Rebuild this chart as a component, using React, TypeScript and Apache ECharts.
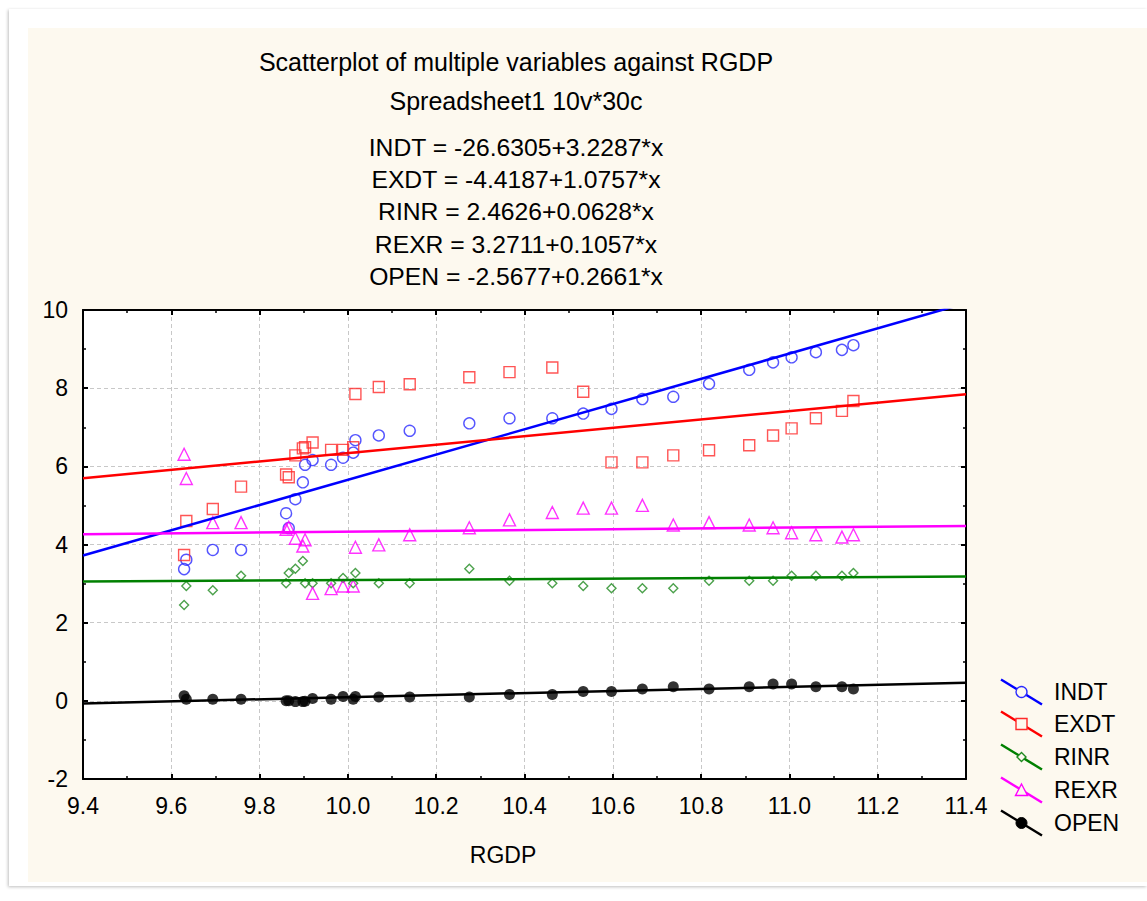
import React, { useEffect, useRef } from "react";
import * as echarts from "echarts";

// ---- Data ----
const seriesNames = ["INDT", "EXDT", "RINR", "REXR", "OPEN"];

const rgdp = [
  9.629, 9.634, 9.694, 9.758, 9.86, 9.866, 9.881, 9.898, 9.903, 9.92,
  9.962, 9.989, 10.012, 10.017, 10.07, 10.14, 10.275, 10.366, 10.463, 10.533,
  10.597, 10.667, 10.737, 10.818, 10.909, 10.963, 11.005, 11.06, 11.119, 11.145,
];
const indt = [
  3.37, 3.61, 3.86, 3.86, 4.8, 4.42, 5.16, 5.59, 6.04, 6.16,
  6.04, 6.22, 6.35, 6.67, 6.79, 6.91, 7.1, 7.23, 7.23, 7.35,
  7.47, 7.72, 7.78, 8.11, 8.47, 8.66, 8.79, 8.92, 8.98, 9.1,
];
const exdt = [
  3.73, 4.6, 4.91, 5.48, 5.79, 5.72, 6.28, 6.46, 6.49, 6.61,
  6.42, 6.42, 6.49, 7.85, 8.03, 8.1, 8.28, 8.41, 8.53, 7.91,
  6.1, 6.1, 6.28, 6.41, 6.54, 6.79, 6.97, 7.23, 7.42, 7.67,
];
const rinr = [
  2.45, 2.94, 2.83, 3.2, 3.01, 3.27, 3.38, 3.58, 3.01, 3.01,
  3.01, 3.14, 3.01, 3.27, 3.01, 3.01, 3.38, 3.07, 3.01, 2.94,
  2.88, 2.88, 2.88, 3.07, 3.07, 3.07, 3.2, 3.2, 3.2, 3.27,
];
const rexr = [
  6.31, 5.69, 4.56, 4.56, 4.39, 4.44, 4.16, 3.96, 4.12, 2.75,
  2.87, 2.94, 2.94, 3.93, 3.99, 4.25, 4.43, 4.63, 4.82, 4.93,
  4.93, 5.0, 4.5, 4.56, 4.5, 4.43, 4.3, 4.25, 4.19, 4.25,
];
const open = [
  0.13, 0.04, 0.04, 0.04, 0.0, 0.0, -0.02, -0.02, -0.01, 0.06,
  0.04, 0.11, 0.04, 0.11, 0.1, 0.1, 0.1, 0.16, 0.16, 0.24,
  0.24, 0.3, 0.36, 0.3, 0.36, 0.43, 0.43, 0.36, 0.36, 0.3,
];
const intercepts = [-26.6305, -4.4187, 2.4626, 3.2711, -2.5677];
const slopes = [3.2287, 1.0757, 0.0628, 0.1057, 0.2661];

const xMin = 9.4;
const xMax = 11.4;
const xStep = 0.2;
const yMin = -2;
const yMax = 10;
const yStep = 2;

const titleText = "Scatterplot of multiple variables against RGDP";
const subtitleText = "Spreadsheet1 10v*30c";
const xAxisName = "RGDP";

// ---- Styles ----
const allValues = [indt, exdt, rinr, rexr, open];
const colors = ["#0000ff", "#ff0000", "#008000", "#ff00ff", "#000000"];
const markerColors = ["#2a2aff", "#ff2a2a", "#1f8a1f", "#ff00ff", "#000000"];
const symbols = ["circle", "rect", "diamond", "triangle", "circle"];
const symbolSizes = [11, 11, 9, 12, 11];
const FONT = "'Liberation Sans', Arial, Helvetica, sans-serif";

const GRID = { left: 83, top: 310, width: 883, height: 469 };

function fmt(v: number) {
  return v.toFixed(4);
}

export default function App() {
  const ref = useRef<HTMLDivElement>(null);

  useEffect(() => {
    if (!ref.current) return;
    const chart = echarts.init(ref.current, undefined, { renderer: "svg" });

    const scatterSeries = seriesNames.map((name, i) => ({
      name,
      type: "scatter",
      xAxisIndex: 0,
      yAxisIndex: 0,
      symbol: symbols[i],
      symbolSize: symbolSizes[i],
      data: rgdp.map((x, k) => [x, allValues[i][k]]),
      itemStyle:
        i === 4
          ? { color: markerColors[i] }
          : { color: "rgba(255,255,255,0)", borderColor: markerColors[i], borderWidth: 1.4 },
      z: 2,
      silent: true,
    }));

    const lineSeries = seriesNames.map((name, i) => ({
      name: name + " fit",
      type: "line",
      xAxisIndex: 0,
      yAxisIndex: 0,
      showSymbol: false,
      symbol: "none",
      clip: true,
      data: [
        [xMin, intercepts[i] + slopes[i] * xMin],
        [xMax, intercepts[i] + slopes[i] * xMax],
      ],
      lineStyle: { color: colors[i], width: 2.5 },
      z: 3,
      silent: true,
    }));

    const centerX = 516;
    const headerTexts: any[] = [
      { text: titleText, y: 62, size: 25 },
      { text: subtitleText, y: 101, size: 25 },
      ...seriesNames.map((n, i) => ({
        text: `${n} = ${fmt(intercepts[i])}+${fmt(slopes[i])}*x`,
        y: 147 + i * 32.4,
        size: 24.7,
      })),
    ].map((t) => ({
      type: "text",
      x: centerX,
      y: t.y,
      style: {
        text: t.text,
        fill: "#000",
        font: `${t.size}px ${FONT}`,
        textAlign: "center",
        textVerticalAlign: "middle",
      },
    }));

    const legendYs = [692, 724, 757, 790, 823];
    const legendEls: any[] = [];
    seriesNames.forEach((n, i) => {
      const y = legendYs[i];
      const cx = 1021.5;
      legendEls.push({
        type: "line",
        shape: { x1: 1001, y1: y - 12.5, x2: 1042, y2: y + 12.5 },
        style: { stroke: colors[i], lineWidth: 2.5 },
        z: 10,
      });
      const mStyle =
        i === 4
          ? { fill: "#000", stroke: "#000", lineWidth: 1 }
          : { fill: "#fdf9ef", stroke: markerColors[i], lineWidth: 1.4 };
      if (symbols[i] === "circle") {
        legendEls.push({ type: "circle", shape: { cx, cy: y, r: 5.5 }, style: mStyle, z: 11 });
      } else if (symbols[i] === "rect") {
        legendEls.push({ type: "rect", shape: { x: cx - 5.5, y: y - 5.5, width: 11, height: 11 }, style: mStyle, z: 11 });
      } else if (symbols[i] === "diamond") {
        legendEls.push({
          type: "polygon",
          shape: { points: [[cx, y - 4.5], [cx + 4.5, y], [cx, y + 4.5], [cx - 4.5, y]] },
          style: mStyle,
          z: 11,
        });
      } else {
        legendEls.push({
          type: "polygon",
          shape: { points: [[cx, y - 6], [cx + 6, y + 5.5], [cx - 6, y + 5.5]] },
          style: mStyle,
          z: 11,
        });
      }
      legendEls.push({
        type: "text",
        x: 1054,
        y,
        style: { text: n, fill: "#000", font: `23px ${FONT}`, textVerticalAlign: "middle" },
        z: 11,
      });
    });

    const axisLineStyle = { color: "#000", width: 2 };
    const tickCommon = { show: true, inside: true, length: 5, lineStyle: { color: "#000", width: 2 } };
    const minorCommon = { show: true, splitNumber: 2, length: 3, lineStyle: { color: "#000", width: 1.5 } };

    chart.setOption({
      animation: false,
      backgroundColor: "transparent",
      textStyle: { fontFamily: FONT },
      grid: {
        ...GRID,
        show: true,
        backgroundColor: "#ffffff",
        borderWidth: 0,
      },
      xAxis: [
        {
          type: "value",
          min: xMin,
          max: xMax,
          interval: xStep,
          position: "bottom",
          axisLine: { show: true, onZero: false, lineStyle: axisLineStyle },
          axisTick: tickCommon,
          minorTick: minorCommon,
          axisLabel: {
            color: "#000",
            fontSize: 23,
            fontFamily: FONT,
            margin: 15,
            showMinLabel: true,
            showMaxLabel: true,
            formatter: (v: number) => v.toFixed(1),
          },
          splitLine: { show: true, lineStyle: { type: [4, 3], color: "#c8c8c8", width: 1 } },
        },
        {
          type: "value",
          min: xMin,
          max: xMax,
          interval: xStep,
          position: "top",
          axisLine: { show: true, onZero: false, lineStyle: axisLineStyle },
          axisTick: tickCommon,
          minorTick: minorCommon,
          axisLabel: { show: false },
          splitLine: { show: false },
        },
      ],
      yAxis: [
        {
          type: "value",
          min: yMin,
          max: yMax,
          interval: yStep,
          position: "left",
          axisLine: { show: true, onZero: false, lineStyle: axisLineStyle },
          axisTick: tickCommon,
          minorTick: minorCommon,
          axisLabel: { color: "#000", fontSize: 23, fontFamily: FONT, margin: 15 },
          splitLine: { show: true, lineStyle: { type: [4, 3], color: "#c8c8c8", width: 1 } },
        },
        {
          type: "value",
          min: yMin,
          max: yMax,
          interval: yStep,
          position: "right",
          axisLine: { show: true, onZero: false, lineStyle: axisLineStyle },
          axisTick: tickCommon,
          minorTick: minorCommon,
          axisLabel: { show: false },
          splitLine: { show: false },
        },
      ],
      graphic: [
        ...headerTexts,
        {
          type: "text",
          x: 503,
          y: 855,
          style: {
            text: xAxisName,
            fill: "#000",
            font: `23px ${FONT}`,
            textAlign: "center",
            textVerticalAlign: "middle",
          },
        },
        ...legendEls,
      ],
      series: [...scatterSeries, ...lineSeries],
    });

    return () => chart.dispose();
  }, []);

  return (
    <div
      style={{
        position: "fixed",
        left: 0,
        top: 0,
        width: 1147,
        height: 901,
        background: "#ffffff",
        overflow: "hidden",
      }}
    >
      <div
        style={{
          position: "absolute",
          left: 9,
          top: 9,
          width: 1138,
          height: 877,
          background: "#ffffff",
          boxShadow: "-1px 1px 3px rgba(0,0,0,0.25)",
        }}
      />
      <div
        style={{
          position: "absolute",
          left: 28,
          top: 28,
          width: 1119,
          height: 854,
          background: "#fdf9ef",
        }}
      />
      <div
        ref={ref}
        style={{ position: "absolute", left: 0, top: 0, width: 1147, height: 901 }}
      />
    </div>
  );
}
